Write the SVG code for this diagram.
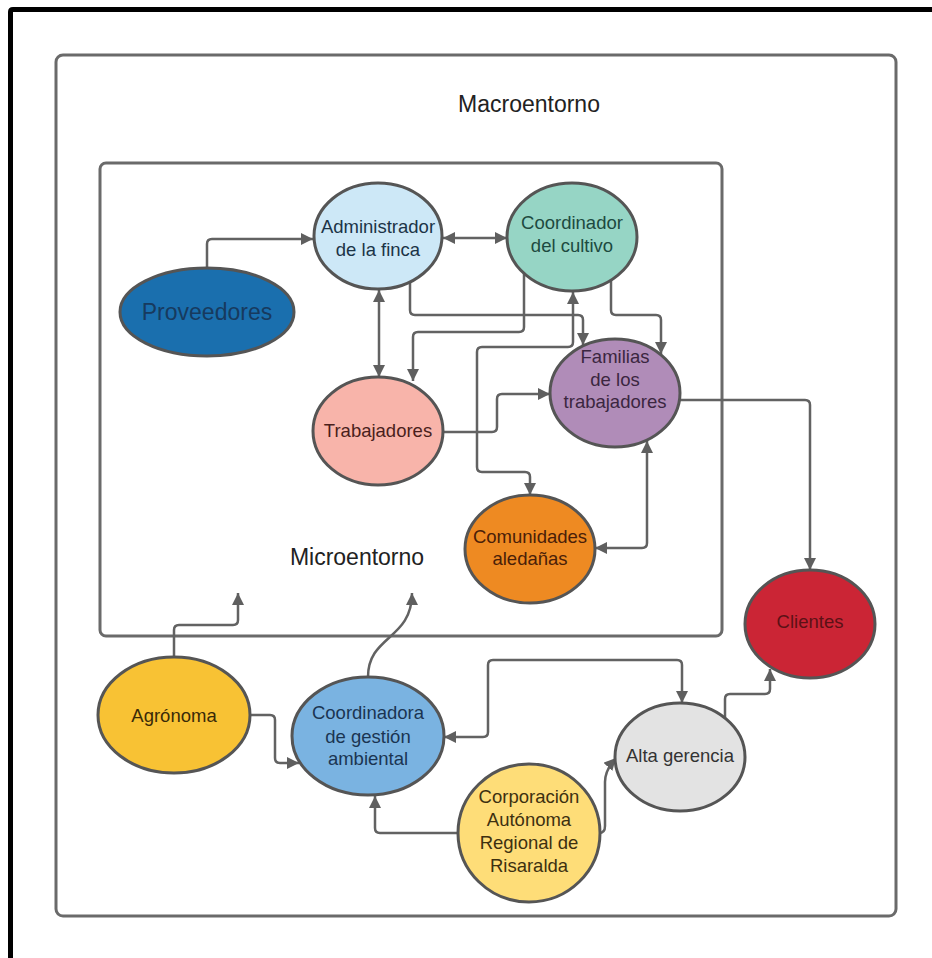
<svg xmlns="http://www.w3.org/2000/svg" width="932" height="958" viewBox="0 0 932 958">
<style>
.frame{fill:none;stroke:#000;stroke-width:5}
.box{fill:none;stroke:#6a6a6a;stroke-width:3}
.node{stroke:#555;stroke-width:3}
.lbl{font-family:"Liberation Sans",Arial,sans-serif;font-size:18.5px;text-anchor:middle}
.big{font-family:"Liberation Sans",Arial,sans-serif;font-size:23px;text-anchor:middle;fill:#222}
.c{fill:none;stroke:#626262;stroke-width:2.5;stroke-linejoin:round}
.one{marker-end:url(#arr)}
.two{marker-start:url(#arr);marker-end:url(#arr)}
</style>
<defs>
<marker id="arr" markerUnits="userSpaceOnUse" markerWidth="14" markerHeight="14" refX="12" refY="6" orient="auto-start-reverse">
<path d="M0,0 L12,6 L0,12 z" fill="#5f5f5f"/>
</marker>
</defs>
<rect width="932" height="958" fill="#fff"/>
<path class="frame" d="M10.5,958 V12 Q10.5,9.5 13,9.5 H932"/>
<g id="macroentorno">
<rect class="box" x="56" y="55" width="840" height="861" rx="7"/>
<text class="big" x="529" y="112">Macroentorno</text>
</g>
<g id="microentorno">
<rect class="box" x="100" y="163" width="622" height="473" rx="6"/>
<text class="big" x="357" y="565">Microentorno</text>
</g>
<g id="connectors">
<path class="c one" d="M207,268 V244 Q207,239 212,239 H313"/>
<path class="c two" d="M443,238 H507"/>
<path class="c two" d="M379,290 V377"/>
<path class="c one" d="M410,282 V310 Q410,315 415,315 H578 Q583,315 583,320 V345"/>
<path class="c one" d="M524,273 V327 Q524,332 519,332 H418 Q413,332 413,337 V381"/>
<path class="c two" d="M573,292 V342 Q573,347 568,347 H482 Q477,347 477,352 V467 Q477,472 482,472 H525 Q530,472 530,477 V495"/>
<path class="c one" d="M611,280 V310 Q611,315 616,315 H656 Q661,315 661,320 V354"/>
<path class="c one" d="M443,432 H492 Q497,432 497,427 V399 Q497,394 502,394 H550"/>
<path class="c two" d="M647,441 V543 Q647,548 642,548 H595"/>
<path class="c one" d="M680,400 H805 Q810,400 810,405 V570"/>
<path class="c one" d="M174,657 V630 Q174,625 179,625 H233 Q238,625 238,620 V593"/>
<path class="c one" d="M368,677 C368,635 412,640 412,593"/>
<path class="c one" d="M250,715 H270 Q275,715 275,720 V758 Q275,763 280,763 H299"/>
<path class="c two" d="M444,737 H483 Q488,737 488,732 V665 Q488,660 493,660 H677 Q682,660 682,665 V703"/>
<path class="c one" d="M459,833 H380 Q375,833 375,828 V796"/>
<path class="c one" d="M599,833 Q605,833 605,826 V782 Q605,770 616,758"/>
<path class="c one" d="M725,718 V699 Q725,694 730,694 H765 Q770,694 770,689 V669"/>
</g>
<g id="administrador">
<ellipse class="node" cx="378" cy="236" rx="64" ry="53" fill="#cde8f7"/>
<text class="lbl" fill="#1b3447"><tspan x="378" y="233">Administrador</tspan><tspan x="378" y="256">de la finca</tspan></text>
</g>
<g id="coordinador">
<ellipse class="node" cx="572" cy="237" rx="65" ry="54" fill="#96d5c5"/>
<text class="lbl" fill="#1d4a40"><tspan x="572" y="229">Coordinador</tspan><tspan x="572" y="252">del cultivo</tspan></text>
</g>
<g id="proveedores">
<ellipse class="node" cx="207" cy="312" rx="87" ry="44" fill="#1a6fae"/>
<text class="lbl" x="207" y="320" fill="#173a5e" style="font-size:23px">Proveedores</text>
</g>
<g id="trabajadores">
<ellipse class="node" cx="378" cy="431" rx="65" ry="54" fill="#f8b4aa"/>
<text class="lbl" x="378" y="437" fill="#4a1f1c">Trabajadores</text>
</g>
<g id="familias">
<ellipse class="node" cx="615" cy="393" rx="65" ry="54" fill="#b08cb8"/>
<text class="lbl" fill="#3b2640"><tspan x="615" y="363">Familias</tspan><tspan x="615" y="386">de los</tspan><tspan x="615" y="408">trabajadores</tspan></text>
</g>
<g id="comunidades">
<ellipse class="node" cx="530" cy="549" rx="65" ry="54" fill="#ee8a22"/>
<text class="lbl" fill="#4a2008"><tspan x="530" y="543">Comunidades</tspan><tspan x="530" y="565">aledañas</tspan></text>
</g>
<g id="clientes">
<ellipse class="node" cx="810" cy="624" rx="65" ry="54" fill="#cb2535"/>
<text class="lbl" x="810" y="628" fill="#5c1116">Clientes</text>
</g>
<g id="agronoma">
<ellipse class="node" cx="174" cy="715" rx="76" ry="58" fill="#f8c234"/>
<text class="lbl" x="174" y="722" fill="#3a2a08">Agrónoma</text>
</g>
<g id="coordinadora">
<ellipse class="node" cx="368" cy="736" rx="76" ry="59" fill="#7ab3e1"/>
<text class="lbl" fill="#1a3552"><tspan x="368" y="719">Coordinadora</tspan><tspan x="368" y="743">de gestión</tspan><tspan x="368" y="765">ambiental</tspan></text>
</g>
<g id="alta-gerencia">
<ellipse class="node" cx="680" cy="757" rx="65" ry="54" fill="#e3e3e3"/>
<text class="lbl" x="680" y="762" fill="#333">Alta gerencia</text>
</g>
<g id="corporacion">
<ellipse class="node" cx="529" cy="833" rx="71" ry="69" fill="#fedd78"/>
<text class="lbl" fill="#3d3010"><tspan x="529" y="803">Corporación</tspan><tspan x="529" y="826">Autónoma</tspan><tspan x="529" y="849">Regional de</tspan><tspan x="529" y="872">Risaralda</tspan></text>
</g>
</svg>
